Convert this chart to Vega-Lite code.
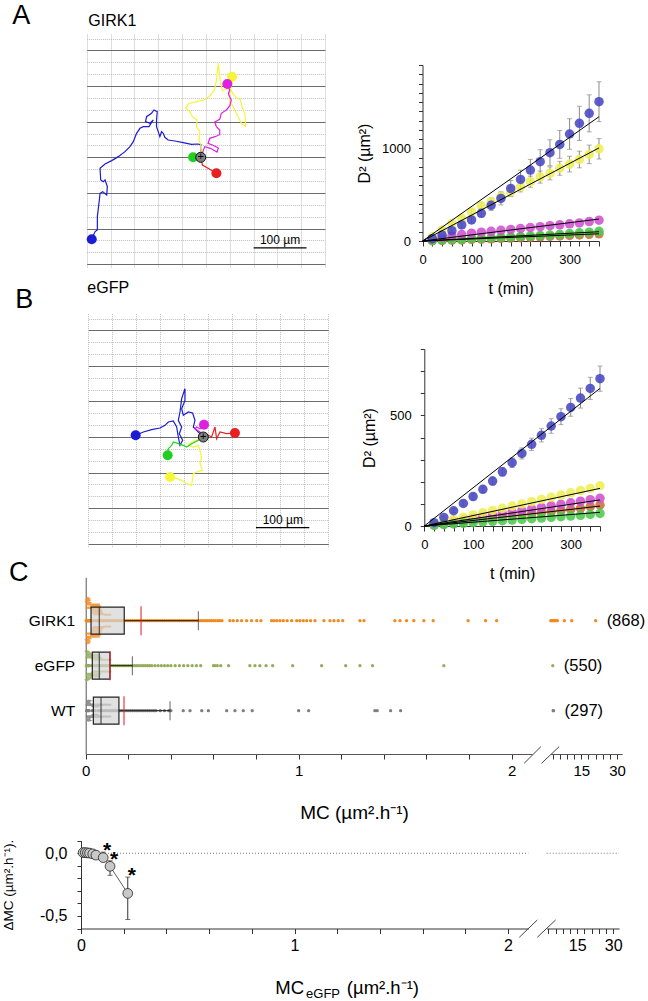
{
"$schema":"https://vega.github.io/schema/vega-lite/v6.json",
"width":648,"height":1001,"autosize":{"type":"none"},"padding":0,"background":"white",
"config":{"view":{"stroke":null},"font":"Liberation Sans","legend":{"disable":true},
"axis":{"grid":false,"domainColor":"#333","tickColor":"#333","labelColor":"#000","titleColor":"#000","labelFont":"Liberation Sans","titleFont":"Liberation Sans","titleFontWeight":"normal","labelOverlap":false,"labelBound":false,"labelFlush":false}},
"datasets":{
"trajA":[
{"k":"blue","i":0,"x":0,"y":0},{"k":"blue","i":1,"x":1.3,"y":23.4},{"k":"blue","i":2,"x":-5.1,"y":25.3},{"k":"blue","i":3,"x":-17.7,"y":24.7},{"k":"blue","i":4,"x":-33.5,"y":27.9},{"k":"blue","i":5,"x":-49.4,"y":31},{"k":"blue","i":6,"x":-62,"y":32.9},{"k":"blue","i":7,"x":-68.4,"y":38},{"k":"blue","i":8,"x":-71.5,"y":45.6},{"k":"blue","i":9,"x":-74.7,"y":48.7},{"k":"blue","i":10,"x":-77.9,"y":39.2},{"k":"blue","i":11,"x":-81,"y":48.7},{"k":"blue","i":12,"x":-84.2,"y":58.2},{"k":"blue","i":13,"x":-84.2,"y":70.9},{"k":"blue","i":14,"x":-82.9,"y":86.7},{"k":"blue","i":15,"x":-89.3,"y":89.9},{"k":"blue","i":16,"x":-93.7,"y":83.6},{"k":"blue","i":17,"x":-103.2,"y":77.2},{"k":"blue","i":18,"x":-105.1,"y":67.7},{"k":"blue","i":19,"x":-96.9,"y":64.6},{"k":"blue","i":20,"x":-90.5,"y":70.9},{"k":"blue","i":21,"x":-98.7,"y":58.2},{"k":"blue","i":22,"x":-109.5,"y":58.2},{"k":"blue","i":23,"x":-115.8,"y":55.1},{"k":"blue","i":24,"x":-122.2,"y":45.6},{"k":"blue","i":25,"x":-128.5,"y":29.8},{"k":"blue","i":26,"x":-134.8,"y":20.3},{"k":"blue","i":27,"x":-144.3,"y":10.8},{"k":"blue","i":28,"x":-157,"y":1.3},{"k":"blue","i":29,"x":-169.6,"y":-6.3},{"k":"blue","i":30,"x":-182.3,"y":-12.7},{"k":"blue","i":31,"x":-191.8,"y":-20.9},{"k":"blue","i":32,"x":-190.5,"y":-43},{"k":"blue","i":33,"x":-185.5,"y":-46.2},{"k":"blue","i":34,"x":-182.3,"y":-43},{"k":"blue","i":35,"x":-177.9,"y":-55.7},{"k":"blue","i":36,"x":-179.1,"y":-71.5},{"k":"blue","i":37,"x":-186.7,"y":-65.2},{"k":"blue","i":38,"x":-191.8,"y":-68.4},{"k":"blue","i":39,"x":-193.1,"y":-81},{"k":"blue","i":40,"x":-195,"y":-96.8},{"k":"blue","i":41,"x":-196.9,"y":-112.7},{"k":"blue","i":42,"x":-196.9,"y":-138},{"k":"blue","i":43,"x":-201.3,"y":-141.2},{"k":"blue","i":44,"x":-207.6,"y":-155.7},
{"k":"yellow","i":0,"x":0,"y":0},{"k":"yellow","i":1,"x":1.3,"y":20.3},{"k":"yellow","i":2,"x":-3.2,"y":32.9},{"k":"yellow","i":3,"x":-1.9,"y":48.7},{"k":"yellow","i":4,"x":-8.2,"y":58.2},{"k":"yellow","i":5,"x":-7,"y":70.9},{"k":"yellow","i":6,"x":-15.8,"y":77.2},{"k":"yellow","i":7,"x":-20.9,"y":86.7},{"k":"yellow","i":8,"x":-28.5,"y":93.1},{"k":"yellow","i":9,"x":-24.1,"y":101.3},{"k":"yellow","i":10,"x":-8.2,"y":105.7},{"k":"yellow","i":11,"x":5.7,"y":108.9},{"k":"yellow","i":12,"x":17.1,"y":116.5},{"k":"yellow","i":13,"x":26.6,"y":129.1},{"k":"yellow","i":14,"x":29.8,"y":146.9},{"k":"yellow","i":15,"x":33.5,"y":178.5},{"k":"yellow","i":16,"x":37.3,"y":143.7},{"k":"yellow","i":17,"x":41.1,"y":126.6},{"k":"yellow","i":18,"x":55.1,"y":132.9},{"k":"yellow","i":19,"x":61.4,"y":120.3},{"k":"yellow","i":20,"x":69,"y":112},{"k":"yellow","i":21,"x":75.3,"y":110.1},{"k":"yellow","i":22,"x":79.1,"y":95},{"k":"yellow","i":23,"x":84.2,"y":80.4},{"k":"yellow","i":24,"x":85.5,"y":59.5},{"k":"yellow","i":25,"x":77.9,"y":63.3},{"k":"yellow","i":26,"x":71.5,"y":77.2},{"k":"yellow","i":27,"x":65.2,"y":88.6},{"k":"yellow","i":28,"x":60.1,"y":99.4},{"k":"yellow","i":29,"x":55.1,"y":105.1},{"k":"yellow","i":30,"x":55.1,"y":121.5},{"k":"yellow","i":31,"x":59.5,"y":140.5},{"k":"yellow","i":32,"x":59.5,"y":153.2},
{"k":"magenta","i":0,"x":0,"y":0},{"k":"magenta","i":1,"x":7.6,"y":20.3},{"k":"magenta","i":2,"x":18.4,"y":17.1},{"k":"magenta","i":3,"x":31,"y":10.1},{"k":"magenta","i":4,"x":33.5,"y":17.7},{"k":"magenta","i":5,"x":23.4,"y":22.8},{"k":"magenta","i":6,"x":13.9,"y":26.6},{"k":"magenta","i":7,"x":17.1,"y":36.1},{"k":"magenta","i":8,"x":27.2,"y":39.2},{"k":"magenta","i":9,"x":36.1,"y":43},{"k":"magenta","i":10,"x":36.1,"y":51.9},{"k":"magenta","i":11,"x":29.8,"y":58.2},{"k":"magenta","i":12,"x":26.6,"y":67.1},{"k":"magenta","i":13,"x":36.1,"y":72.2},{"k":"magenta","i":14,"x":39.2,"y":83.6},{"k":"magenta","i":15,"x":48.7,"y":89.9},{"k":"magenta","i":16,"x":55.1,"y":97.5},{"k":"magenta","i":17,"x":58.2,"y":108.9},{"k":"magenta","i":18,"x":52.5,"y":120.3},{"k":"magenta","i":19,"x":55.1,"y":127.9},{"k":"magenta","i":20,"x":50.6,"y":139.3},
{"k":"green","i":0,"x":0,"y":0},{"k":"green","i":1,"x":-8.2,"y":4.4},{"k":"green","i":2,"x":-14.6,"y":0},
{"k":"red","i":0,"x":0,"y":0},{"k":"red","i":1,"x":3.2,"y":-14.6},{"k":"red","i":2,"x":13.9,"y":-20.9},{"k":"red","i":3,"x":29.8,"y":-30.4}
],
"trajB":[
{"k":"blue","i":0,"x":0,"y":0},{"k":"blue","i":1,"x":-9.5,"y":9.5},{"k":"blue","i":2,"x":-19,"y":19},{"k":"blue","i":3,"x":-15.8,"y":31.7},{"k":"blue","i":4,"x":-20.3,"y":45.6},{"k":"blue","i":5,"x":-28.5,"y":47.5},{"k":"blue","i":6,"x":-38,"y":41.1},{"k":"blue","i":7,"x":-41.1,"y":53.8},{"k":"blue","i":8,"x":-34.8,"y":69.6},{"k":"blue","i":9,"x":-34.8,"y":91.8},{"k":"blue","i":10,"x":-41.1,"y":72.8},{"k":"blue","i":11,"x":-44.3,"y":47.5},{"k":"blue","i":12,"x":-47.5,"y":31.7},{"k":"blue","i":13,"x":-41.1,"y":19},{"k":"blue","i":14,"x":-45.6,"y":6.3},{"k":"blue","i":15,"x":-39.2,"y":-6.3},{"k":"blue","i":16,"x":-44.3,"y":-15.8},{"k":"blue","i":17,"x":-47.5,"y":0},{"k":"blue","i":18,"x":-50.6,"y":19},{"k":"blue","i":19,"x":-57,"y":30.4},{"k":"blue","i":20,"x":-66.5,"y":28.5},{"k":"blue","i":21,"x":-72.8,"y":22.2},{"k":"blue","i":22,"x":-82.3,"y":17.1},{"k":"blue","i":23,"x":-98.1,"y":13.9},{"k":"blue","i":24,"x":-113.9,"y":9.5},{"k":"blue","i":25,"x":-128.5,"y":3.2},
{"k":"yellow","i":0,"x":0,"y":0},{"k":"yellow","i":1,"x":-12.7,"y":-6.3},{"k":"yellow","i":2,"x":-22.2,"y":-9.5},{"k":"yellow","i":3,"x":-28.5,"y":-15.8},{"k":"yellow","i":4,"x":-19,"y":-19},{"k":"yellow","i":5,"x":-9.5,"y":-15.8},{"k":"yellow","i":6,"x":-6.3,"y":-25.3},{"k":"yellow","i":7,"x":-3.2,"y":-38},{"k":"yellow","i":8,"x":-6.3,"y":-50.6},{"k":"yellow","i":9,"x":-1.9,"y":-63.3},{"k":"yellow","i":10,"x":-12.7,"y":-66.5},{"k":"yellow","i":11,"x":-19,"y":-69.6},{"k":"yellow","i":12,"x":-22.2,"y":-91.8},{"k":"yellow","i":13,"x":-31.7,"y":-88.6},{"k":"yellow","i":14,"x":-41.1,"y":-82.3},{"k":"yellow","i":15,"x":-50.6,"y":-79.1},{"k":"yellow","i":16,"x":-63.3,"y":-76},
{"k":"green","i":0,"x":0,"y":0},{"k":"green","i":1,"x":-9.5,"y":-6.3},{"k":"green","i":2,"x":-22.2,"y":-12.7},{"k":"green","i":3,"x":-31.7,"y":-19},{"k":"green","i":4,"x":-38,"y":-15.8},{"k":"green","i":5,"x":-47.5,"y":-12.7},{"k":"green","i":6,"x":-57,"y":-9.5},{"k":"green","i":7,"x":-60.1,"y":-15.8},{"k":"green","i":8,"x":-66.5,"y":-22.2},{"k":"green","i":9,"x":-67.7,"y":-34.8},
{"k":"magenta","i":0,"x":0,"y":0},{"k":"magenta","i":1,"x":-6.3,"y":9.5},{"k":"magenta","i":2,"x":-15.8,"y":15.8},{"k":"magenta","i":3,"x":-12.7,"y":19},{"k":"magenta","i":4,"x":-6.3,"y":15.8},{"k":"magenta","i":5,"x":1.3,"y":23.4},
{"k":"red","i":0,"x":0,"y":0},{"k":"red","i":1,"x":9.5,"y":3.2},{"k":"red","i":2,"x":15.8,"y":0},{"k":"red","i":3,"x":22.2,"y":19},{"k":"red","i":4,"x":25.3,"y":-3.2},{"k":"red","i":5,"x":31.7,"y":9.5},{"k":"red","i":6,"x":44.3,"y":6.3},{"k":"red","i":7,"x":60.1,"y":7.6}
],
"d2A":[
{"s":"red","t":20,"d2":3},{"s":"red","t":40,"d2":6},{"s":"red","t":60,"d2":9},{"s":"red","t":80,"d2":12},{"s":"red","t":100,"d2":16},{"s":"red","t":120,"d2":20},{"s":"red","t":140,"d2":24},{"s":"red","t":160,"d2":28},{"s":"red","t":180,"d2":32},{"s":"red","t":200,"d2":36},{"s":"red","t":220,"d2":40},{"s":"red","t":240,"d2":45},{"s":"red","t":260,"d2":50},{"s":"red","t":280,"d2":55},{"s":"red","t":300,"d2":60},{"s":"red","t":320,"d2":66},{"s":"red","t":340,"d2":72},{"s":"red","t":360,"d2":78},
{"s":"green","t":20,"d2":5},{"s":"green","t":40,"d2":10},{"s":"green","t":60,"d2":15},{"s":"green","t":80,"d2":20},{"s":"green","t":100,"d2":25},{"s":"green","t":120,"d2":30},{"s":"green","t":140,"d2":35},{"s":"green","t":160,"d2":40},{"s":"green","t":180,"d2":45},{"s":"green","t":200,"d2":50},{"s":"green","t":220,"d2":55},{"s":"green","t":240,"d2":60},{"s":"green","t":260,"d2":65},{"s":"green","t":280,"d2":72},{"s":"green","t":300,"d2":80},{"s":"green","t":320,"d2":88},{"s":"green","t":340,"d2":95},{"s":"green","t":360,"d2":105},
{"s":"magenta","t":20,"d2":25},{"s":"magenta","t":40,"d2":40},{"s":"magenta","t":60,"d2":55},{"s":"magenta","t":80,"d2":70},{"s":"magenta","t":100,"d2":85},{"s":"magenta","t":120,"d2":95},{"s":"magenta","t":140,"d2":105},{"s":"magenta","t":160,"d2":115},{"s":"magenta","t":180,"d2":125},{"s":"magenta","t":200,"d2":135},{"s":"magenta","t":220,"d2":145},{"s":"magenta","t":240,"d2":155},{"s":"magenta","t":260,"d2":165},{"s":"magenta","t":280,"d2":175},{"s":"magenta","t":300,"d2":185},{"s":"magenta","t":320,"d2":195},{"s":"magenta","t":340,"d2":210},{"s":"magenta","t":360,"d2":225},
{"s":"yellow","t":20,"d2":45,"se":8},{"s":"yellow","t":40,"d2":120,"se":15},{"s":"yellow","t":60,"d2":190,"se":20},{"s":"yellow","t":80,"d2":245,"se":25},{"s":"yellow","t":100,"d2":315,"se":30},{"s":"yellow","t":120,"d2":380,"se":35},{"s":"yellow","t":140,"d2":425,"se":40},{"s":"yellow","t":160,"d2":480,"se":45},{"s":"yellow","t":180,"d2":530,"se":50},{"s":"yellow","t":200,"d2":585,"se":55},{"s":"yellow","t":220,"d2":640,"se":60},{"s":"yellow","t":240,"d2":690,"se":65},{"s":"yellow","t":260,"d2":730,"se":70},{"s":"yellow","t":280,"d2":785,"se":75},{"s":"yellow","t":300,"d2":830,"se":85},{"s":"yellow","t":320,"d2":880,"se":90},{"s":"yellow","t":340,"d2":935,"se":100},{"s":"yellow","t":360,"d2":995,"se":110},
{"s":"blue","t":20,"d2":25,"se":5},{"s":"blue","t":40,"d2":65,"se":10},{"s":"blue","t":60,"d2":112,"se":18},{"s":"blue","t":80,"d2":173,"se":25},{"s":"blue","t":100,"d2":227,"se":32},{"s":"blue","t":120,"d2":299,"se":40},{"s":"blue","t":140,"d2":385,"se":55},{"s":"blue","t":160,"d2":460,"se":70},{"s":"blue","t":180,"d2":568,"se":85},{"s":"blue","t":200,"d2":665,"se":100},{"s":"blue","t":220,"d2":766,"se":115},{"s":"blue","t":240,"d2":856,"se":130},{"s":"blue","t":260,"d2":953,"se":140},{"s":"blue","t":280,"d2":1043,"se":150},{"s":"blue","t":300,"d2":1155,"se":165},{"s":"blue","t":320,"d2":1270,"se":185},{"s":"blue","t":340,"d2":1378,"se":200},{"s":"blue","t":360,"d2":1504,"se":215}
],
"fitA":[
{"s":"blue","t":0,"d2":0},{"s":"blue","t":360,"d2":1342},{"s":"yellow","t":0,"d2":0},{"s":"yellow","t":360,"d2":1005},{"s":"magenta","t":0,"d2":0},{"s":"magenta","t":360,"d2":237},{"s":"green","t":0,"d2":0},{"s":"green","t":360,"d2":100},{"s":"red","t":0,"d2":0},{"s":"red","t":360,"d2":78}
],
"d2B":[
{"s":"red","t":20,"d2":5},{"s":"red","t":40,"d2":10},{"s":"red","t":60,"d2":15},{"s":"red","t":80,"d2":20},{"s":"red","t":100,"d2":25},{"s":"red","t":120,"d2":30},{"s":"red","t":140,"d2":35},{"s":"red","t":160,"d2":40},{"s":"red","t":180,"d2":45},{"s":"red","t":200,"d2":50},{"s":"red","t":220,"d2":55},{"s":"red","t":240,"d2":60},{"s":"red","t":260,"d2":65},{"s":"red","t":280,"d2":70},{"s":"red","t":300,"d2":75},{"s":"red","t":320,"d2":80},{"s":"red","t":340,"d2":88},{"s":"red","t":360,"d2":95},
{"s":"magenta","t":20,"d2":7},{"s":"magenta","t":40,"d2":14},{"s":"magenta","t":60,"d2":21},{"s":"magenta","t":80,"d2":28},{"s":"magenta","t":100,"d2":35},{"s":"magenta","t":120,"d2":42},{"s":"magenta","t":140,"d2":49},{"s":"magenta","t":160,"d2":56},{"s":"magenta","t":180,"d2":63},{"s":"magenta","t":200,"d2":70},{"s":"magenta","t":220,"d2":77},{"s":"magenta","t":240,"d2":84},{"s":"magenta","t":260,"d2":91},{"s":"magenta","t":280,"d2":98},{"s":"magenta","t":300,"d2":105},{"s":"magenta","t":320,"d2":112},{"s":"magenta","t":340,"d2":119},{"s":"magenta","t":360,"d2":125},
{"s":"yellow","t":20,"d2":10},{"s":"yellow","t":40,"d2":20},{"s":"yellow","t":60,"d2":30},{"s":"yellow","t":80,"d2":40},{"s":"yellow","t":100,"d2":50},{"s":"yellow","t":120,"d2":60},{"s":"yellow","t":140,"d2":70},{"s":"yellow","t":160,"d2":80},{"s":"yellow","t":180,"d2":90},{"s":"yellow","t":200,"d2":100},{"s":"yellow","t":220,"d2":110},{"s":"yellow","t":240,"d2":120},{"s":"yellow","t":260,"d2":130},{"s":"yellow","t":280,"d2":140},{"s":"yellow","t":300,"d2":150},{"s":"yellow","t":320,"d2":160},{"s":"yellow","t":340,"d2":170},{"s":"yellow","t":360,"d2":182},
{"s":"green","t":20,"d2":3},{"s":"green","t":40,"d2":6},{"s":"green","t":60,"d2":9},{"s":"green","t":80,"d2":12},{"s":"green","t":100,"d2":15},{"s":"green","t":120,"d2":18},{"s":"green","t":140,"d2":21},{"s":"green","t":160,"d2":24},{"s":"green","t":180,"d2":27},{"s":"green","t":200,"d2":30},{"s":"green","t":220,"d2":33},{"s":"green","t":240,"d2":36},{"s":"green","t":260,"d2":39},{"s":"green","t":280,"d2":42},{"s":"green","t":300,"d2":45},{"s":"green","t":320,"d2":48},{"s":"green","t":340,"d2":52},{"s":"green","t":360,"d2":57},
{"s":"blue","t":20,"d2":15,"se":3},{"s":"blue","t":40,"d2":39,"se":5},{"s":"blue","t":60,"d2":69,"se":8},{"s":"blue","t":80,"d2":102,"se":10},{"s":"blue","t":100,"d2":133,"se":12},{"s":"blue","t":120,"d2":166,"se":15},{"s":"blue","t":140,"d2":203,"se":18},{"s":"blue","t":160,"d2":245,"se":20},{"s":"blue","t":180,"d2":286,"se":22},{"s":"blue","t":200,"d2":328,"se":25},{"s":"blue","t":220,"d2":369,"se":28},{"s":"blue","t":240,"d2":410,"se":30},{"s":"blue","t":260,"d2":452,"se":33},{"s":"blue","t":280,"d2":494,"se":36},{"s":"blue","t":300,"d2":536,"se":40},{"s":"blue","t":320,"d2":578,"se":45},{"s":"blue","t":340,"d2":622,"se":50},{"s":"blue","t":360,"d2":666,"se":57}
],
"fitB":[
{"s":"blue","t":0,"d2":0},{"s":"blue","t":360,"d2":622},{"s":"yellow","t":0,"d2":0},{"s":"yellow","t":360,"d2":170},{"s":"magenta","t":0,"d2":0},{"s":"magenta","t":360,"d2":118},{"s":"red","t":0,"d2":0},{"s":"red","t":360,"d2":90},{"s":"green","t":0,"d2":0},{"s":"green","t":360,"d2":62}
],
"strip":[
{"g":"GIRK1","mc":0.002},{"g":"GIRK1","mc":0.004},{"g":"GIRK1","mc":0.006},{"g":"GIRK1","mc":0.008},{"g":"GIRK1","mc":0.01},{"g":"GIRK1","mc":0.012},{"g":"GIRK1","mc":0.014},{"g":"GIRK1","mc":0.016},{"g":"GIRK1","mc":0.018},{"g":"GIRK1","mc":0.02},{"g":"GIRK1","mc":0.03},{"g":"GIRK1","mc":0.04},{"g":"GIRK1","mc":0.05},{"g":"GIRK1","mc":0.055},{"g":"GIRK1","mc":0.058},{"g":"GIRK1","mc":0.061},{"g":"GIRK1","mc":0.064},{"g":"GIRK1","mc":0.067},{"g":"GIRK1","mc":0.07},{"g":"GIRK1","mc":0.075},{"g":"GIRK1","mc":0.085},{"g":"GIRK1","mc":0.095},{"g":"GIRK1","mc":0.105},{"g":"GIRK1","mc":0.115},{"g":"GIRK1","mc":0.125},{"g":"GIRK1","mc":0.135},{"g":"GIRK1","mc":0.145},{"g":"GIRK1","mc":0.155},{"g":"GIRK1","mc":0.165},{"g":"GIRK1","mc":0.175},
{"g":"GIRK1","mc":0.19},{"g":"GIRK1","mc":0.2},{"g":"GIRK1","mc":0.21},{"g":"GIRK1","mc":0.22},{"g":"GIRK1","mc":0.23},{"g":"GIRK1","mc":0.24},{"g":"GIRK1","mc":0.25},{"g":"GIRK1","mc":0.26},{"g":"GIRK1","mc":0.27},{"g":"GIRK1","mc":0.28},{"g":"GIRK1","mc":0.29},{"g":"GIRK1","mc":0.3},{"g":"GIRK1","mc":0.31},{"g":"GIRK1","mc":0.32},{"g":"GIRK1","mc":0.33},{"g":"GIRK1","mc":0.34},{"g":"GIRK1","mc":0.35},{"g":"GIRK1","mc":0.36},{"g":"GIRK1","mc":0.37},{"g":"GIRK1","mc":0.38},{"g":"GIRK1","mc":0.39},{"g":"GIRK1","mc":0.4},{"g":"GIRK1","mc":0.41},{"g":"GIRK1","mc":0.42},{"g":"GIRK1","mc":0.43},{"g":"GIRK1","mc":0.44},{"g":"GIRK1","mc":0.45},{"g":"GIRK1","mc":0.46},{"g":"GIRK1","mc":0.47},{"g":"GIRK1","mc":0.48},{"g":"GIRK1","mc":0.49},{"g":"GIRK1","mc":0.5},{"g":"GIRK1","mc":0.51},{"g":"GIRK1","mc":0.52},{"g":"GIRK1","mc":0.53},{"g":"GIRK1","mc":0.54},{"g":"GIRK1","mc":0.55},{"g":"GIRK1","mc":0.56},{"g":"GIRK1","mc":0.57},{"g":"GIRK1","mc":0.58},{"g":"GIRK1","mc":0.59},{"g":"GIRK1","mc":0.6},{"g":"GIRK1","mc":0.61},{"g":"GIRK1","mc":0.62},{"g":"GIRK1","mc":0.63},{"g":"GIRK1","mc":0.64},
{"g":"GIRK1","mc":0.677},{"g":"GIRK1","mc":0.693},{"g":"GIRK1","mc":0.712},{"g":"GIRK1","mc":0.732},{"g":"GIRK1","mc":0.756},{"g":"GIRK1","mc":0.779},{"g":"GIRK1","mc":0.803},{"g":"GIRK1","mc":0.823},{"g":"GIRK1","mc":0.873},{"g":"GIRK1","mc":0.884},{"g":"GIRK1","mc":0.897},{"g":"GIRK1","mc":0.912},{"g":"GIRK1","mc":0.928},{"g":"GIRK1","mc":0.946},{"g":"GIRK1","mc":0.967},{"g":"GIRK1","mc":0.991},{"g":"GIRK1","mc":1.006},{"g":"GIRK1","mc":1.022},{"g":"GIRK1","mc":1.038},{"g":"GIRK1","mc":1.056},{"g":"GIRK1","mc":1.077},{"g":"GIRK1","mc":1.119},{"g":"GIRK1","mc":1.147},{"g":"GIRK1","mc":1.166},{"g":"GIRK1","mc":1.186},{"g":"GIRK1","mc":1.207},{"g":"GIRK1","mc":1.288},{"g":"GIRK1","mc":1.307},{"g":"GIRK1","mc":1.452},{"g":"GIRK1","mc":1.476},{"g":"GIRK1","mc":1.507},{"g":"GIRK1","mc":1.541},{"g":"GIRK1","mc":1.588},{"g":"GIRK1","mc":1.632},{"g":"GIRK1","mc":1.796},{"g":"GIRK1","mc":1.878},{"g":"GIRK1","mc":1.93},
{"g":"GIRK1","mc":2.2},{"g":"GIRK1","mc":2.5},{"g":"GIRK1","mc":2.87},{"g":"GIRK1","mc":3.2},{"g":"GIRK1","mc":3.58},{"g":"GIRK1","mc":4.0},{"g":"GIRK1","mc":4.29},{"g":"GIRK1","mc":4.96},{"g":"GIRK1","mc":7.88},{"g":"GIRK1","mc":10.98},{"g":"GIRK1","mc":21.0},
{"g":"eGFP","mc":0.003},{"g":"eGFP","mc":0.006},{"g":"eGFP","mc":0.009},{"g":"eGFP","mc":0.012},{"g":"eGFP","mc":0.015},{"g":"eGFP","mc":0.018},{"g":"eGFP","mc":0.03},{"g":"eGFP","mc":0.04},{"g":"eGFP","mc":0.05},{"g":"eGFP","mc":0.055},{"g":"eGFP","mc":0.06},{"g":"eGFP","mc":0.065},{"g":"eGFP","mc":0.07},{"g":"eGFP","mc":0.08},{"g":"eGFP","mc":0.09},{"g":"eGFP","mc":0.1},{"g":"eGFP","mc":0.11},{"g":"eGFP","mc":0.12},{"g":"eGFP","mc":0.13},{"g":"eGFP","mc":0.14},{"g":"eGFP","mc":0.15},{"g":"eGFP","mc":0.16},{"g":"eGFP","mc":0.17},{"g":"eGFP","mc":0.18},{"g":"eGFP","mc":0.19},{"g":"eGFP","mc":0.2},{"g":"eGFP","mc":0.21},{"g":"eGFP","mc":0.22},{"g":"eGFP","mc":0.23},{"g":"eGFP","mc":0.24},{"g":"eGFP","mc":0.25},{"g":"eGFP","mc":0.26},{"g":"eGFP","mc":0.27},{"g":"eGFP","mc":0.28},{"g":"eGFP","mc":0.29},{"g":"eGFP","mc":0.3},{"g":"eGFP","mc":0.31},{"g":"eGFP","mc":0.325},{"g":"eGFP","mc":0.34},{"g":"eGFP","mc":0.355},{"g":"eGFP","mc":0.37},{"g":"eGFP","mc":0.385},{"g":"eGFP","mc":0.4},{"g":"eGFP","mc":0.42},{"g":"eGFP","mc":0.44},{"g":"eGFP","mc":0.46},{"g":"eGFP","mc":0.48},{"g":"eGFP","mc":0.5},{"g":"eGFP","mc":0.52},{"g":"eGFP","mc":0.54},
{"g":"eGFP","mc":0.6},{"g":"eGFP","mc":0.607},{"g":"eGFP","mc":0.618},{"g":"eGFP","mc":0.634},{"g":"eGFP","mc":0.671},{"g":"eGFP","mc":0.771},{"g":"eGFP","mc":0.795},{"g":"eGFP","mc":0.818},{"g":"eGFP","mc":0.847},{"g":"eGFP","mc":0.878},{"g":"eGFP","mc":0.972},{"g":"eGFP","mc":1.108},{"g":"eGFP","mc":1.221},{"g":"eGFP","mc":1.288},{"g":"eGFP","mc":1.347},{"g":"eGFP","mc":1.682},{"g":"eGFP","mc":3.04},
{"g":"WT","mc":0.004},{"g":"WT","mc":0.008},{"g":"WT","mc":0.012},{"g":"WT","mc":0.016},{"g":"WT","mc":0.03},{"g":"WT","mc":0.045},{"g":"WT","mc":0.06},{"g":"WT","mc":0.07},{"g":"WT","mc":0.08},{"g":"WT","mc":0.09},{"g":"WT","mc":0.1},{"g":"WT","mc":0.11},{"g":"WT","mc":0.12},{"g":"WT","mc":0.13},{"g":"WT","mc":0.14},{"g":"WT","mc":0.15},{"g":"WT","mc":0.16},{"g":"WT","mc":0.17},{"g":"WT","mc":0.18},{"g":"WT","mc":0.19},{"g":"WT","mc":0.2},{"g":"WT","mc":0.21},{"g":"WT","mc":0.22},{"g":"WT","mc":0.23},{"g":"WT","mc":0.24},{"g":"WT","mc":0.25},{"g":"WT","mc":0.26},{"g":"WT","mc":0.27},{"g":"WT","mc":0.28},{"g":"WT","mc":0.29},{"g":"WT","mc":0.3},{"g":"WT","mc":0.31},{"g":"WT","mc":0.32},{"g":"WT","mc":0.33},{"g":"WT","mc":0.35},{"g":"WT","mc":0.37},{"g":"WT","mc":0.39},{"g":"WT","mc":0.4},
{"g":"WT","mc":0.458},{"g":"WT","mc":0.49},{"g":"WT","mc":0.545},{"g":"WT","mc":0.576},{"g":"WT","mc":0.662},{"g":"WT","mc":0.701},{"g":"WT","mc":0.74},{"g":"WT","mc":0.782},{"g":"WT","mc":1.0},{"g":"WT","mc":1.047},{"g":"WT","mc":1.358},{"g":"WT","mc":1.369},{"g":"WT","mc":1.432},{"g":"WT","mc":1.479},{"g":"WT","mc":3.2},{"g":"WT","mc":3.35}
],
"box":[
{"g":"GIRK1","q1":0.025,"med":0.064,"q3":0.181,"whi":0.529,"mean":0.26},
{"g":"eGFP","q1":0.031,"med":0.064,"q3":0.114,"whi":0.219,"mean":0.114},
{"g":"WT","q1":0.036,"med":0.072,"q3":0.156,"whi":0.396,"mean":0.18}
],
"nlab":[
{"g":"GIRK1","lab":"(868)","last":21.0},{"g":"eGFP","lab":"(550)","last":3.04},{"g":"WT","lab":"(297)","last":3.35}
],
"dmc":[
{"x":0.01,"y":0.005,"lo":0.005,"hi":0.005,"sig":0},{"x":0.02,"y":0.005,"lo":0.005,"hi":0.005,"sig":0},{"x":0.03,"y":0.003,"lo":0.003,"hi":0.003,"sig":0},{"x":0.04,"y":0.001,"lo":0.001,"hi":0.001,"sig":0},{"x":0.055,"y":-0.005,"lo":-0.005,"hi":-0.005,"sig":0},{"x":0.07,"y":-0.015,"lo":-0.015,"hi":-0.015,"sig":0},
{"x":0.104,"y":-0.035,"lo":-0.05,"hi":0.009,"sig":1},{"x":0.136,"y":-0.104,"lo":-0.176,"hi":-0.06,"sig":1},{"x":0.219,"y":-0.32,"lo":-0.528,"hi":-0.19,"sig":1}
]
},
"layer":[
{
"data":{"name":"trajA"},
"layer":[
{"mark":{"type":"line","strokeWidth":1.2},"encoding":{
"x":{"field":"x","type":"quantitative","scale":{"domain":[-217.2,236.6],"range":[86.7,325],"nice":false,"zero":false},"axis":{"orient":"top","grid":true,"values":[-217.2,-194.5,-171.8,-149.1,-126.4,-103.8,-81.1,-58.4,-35.7,-13,9.7,32.4,55.1,77.8,100.5,123.2,145.8,168.5,191.2,213.9,236.6],"labels":false,"ticks":false,"domain":false,"title":null,"gridColor":"#bdbdbd","gridDash":[1,1],"gridWidth":1}},
"y":{"field":"y","type":"quantitative","scale":{"domain":[-208.4,236.2],"range":[267,33],"nice":false,"zero":false},"axis":{"orient":"left","grid":true,"values":[-203.1,-180.6,-158,-135.4,-112.8,-90.3,-67.7,-45.1,-22.6,0,22.6,45.1,67.7,90.3,112.8,135.4,158,180.6,203.1,225.7],"labels":false,"ticks":false,"domain":false,"title":null,"gridColor":{"condition":{"test":"abs(round(datum.value/22.57))%3==0","value":"#6b6b6b"},"value":"#bdbdbd"},"gridDash":{"condition":{"test":"abs(round(datum.value/22.57))%3==0","value":[]},"value":[1,1]},"gridWidth":1}},
"color":{"field":"k","type":"nominal","scale":{"domain":["blue","yellow","magenta","green","red"],"range":["#1c1cd2","#f5f53a","#e020e0","#20d020","#e82020"]}},"order":{"field":"i","type":"quantitative"}}},
{"transform":[{"joinaggregate":[{"op":"max","field":"i","as":"m"}],"groupby":["k"]},{"filter":"datum.i==datum.m"}],"mark":{"type":"circle","size":100,"opacity":1},"encoding":{"x":{"field":"x","type":"quantitative"},"y":{"field":"y","type":"quantitative"},"color":{"field":"k","type":"nominal","scale":{"domain":["blue","yellow","magenta","green","red"],"range":["#1c1cd2","#f5f53a","#e020e0","#20d020","#e82020"]}}}},
{"transform":[{"filter":"datum.i==0 && datum.k=='blue'"}],"mark":{"type":"circle","size":100,"color":"#7f7f7f","opacity":1,"stroke":"#111","strokeWidth":1},"encoding":{"x":{"field":"x","type":"quantitative"},"y":{"field":"y","type":"quantitative"}}},
{"transform":[{"filter":"datum.i==0 && datum.k=='blue'"}],"mark":{"type":"text","text":"+","fontSize":11,"color":"#000","baseline":"middle","align":"center"},"encoding":{"x":{"field":"x","type":"quantitative"},"y":{"field":"y","type":"quantitative"}}},
{"data":{"values":[{}]},"mark":{"type":"rule","color":"#000","strokeWidth":1.2},"encoding":{"x":{"datum":100.7},"x2":{"datum":201.4},"y":{"datum":-172}}},
{"data":{"values":[{}]},"mark":{"type":"text","text":"100 µm","fontSize":12,"baseline":"middle","align":"center"},"encoding":{"x":{"datum":151},"y":{"datum":-157}}},
{"data":{"values":[{}]},"mark":{"type":"text","text":"GIRK1","fontSize":16,"baseline":"middle","align":"left"},"encoding":{"x":{"datum":-214.1},"y":{"datum":258.6}}},
{"data":{"values":[{}]},"mark":{"type":"text","text":"A","fontSize":27,"baseline":"middle","align":"center"},"encoding":{"x":{"datum":-342},"y":{"datum":268.9}}}
]
},
{
"data":{"name":"trajB"},
"layer":[
{"mark":{"type":"line","strokeWidth":1.2},"encoding":{
"x":{"field":"x","type":"quantitative","scale":{"domain":[-218.5,237.5],"range":[88.3,328.3],"nice":false,"zero":false},"axis":{"orient":"top","grid":true,"values":[-218.5,-195.7,-172.9,-150.1,-127.3,-104.5,-81.7,-58.9,-36.1,-13.3,9.5,32.3,55.1,77.9,100.7,123.5,146.3,169.1,191.9,214.7,237.5],"labels":false,"ticks":false,"domain":false,"title":null,"gridColor":"#bdbdbd","gridDash":[1,1],"gridWidth":1}},
"y":{"field":"y","type":"quantitative","scale":{"domain":[-208.4,235],"range":[546.7,313.3],"nice":false,"zero":false},"axis":{"orient":"left","grid":true,"values":[-202.5,-180,-157.5,-135,-112.5,-90,-67.5,-45,-22.5,0,22.5,45,67.5,90,112.5,135,157.5,180,202.5,225],"labels":false,"ticks":false,"domain":false,"title":null,"gridColor":{"condition":{"test":"abs(round(datum.value/22.5))%3==0","value":"#6b6b6b"},"value":"#bdbdbd"},"gridDash":{"condition":{"test":"abs(round(datum.value/22.5))%3==0","value":[]},"value":[1,1]},"gridWidth":1}},
"color":{"field":"k","type":"nominal","scale":{"domain":["blue","yellow","green","magenta","red"],"range":["#1c1cd2","#f5f53a","#20d020","#e020e0","#e82020"]}},"order":{"field":"i","type":"quantitative"}}},
{"transform":[{"joinaggregate":[{"op":"max","field":"i","as":"m"}],"groupby":["k"]},{"filter":"datum.i==datum.m"}],"mark":{"type":"circle","size":100,"opacity":1},"encoding":{"x":{"field":"x","type":"quantitative"},"y":{"field":"y","type":"quantitative"},"color":{"field":"k","type":"nominal","scale":{"domain":["blue","yellow","green","magenta","red"],"range":["#1c1cd2","#f5f53a","#20d020","#e020e0","#e82020"]}}}},
{"transform":[{"filter":"datum.i==0 && datum.k=='blue'"}],"mark":{"type":"circle","size":100,"color":"#7f7f7f","opacity":1,"stroke":"#111","strokeWidth":1},"encoding":{"x":{"field":"x","type":"quantitative"},"y":{"field":"y","type":"quantitative"}}},
{"transform":[{"filter":"datum.i==0 && datum.k=='blue'"}],"mark":{"type":"text","text":"+","fontSize":11,"color":"#000","baseline":"middle","align":"center"},"encoding":{"x":{"field":"x","type":"quantitative"},"y":{"field":"y","type":"quantitative"}}},
{"data":{"values":[{}]},"mark":{"type":"rule","color":"#000","strokeWidth":1.2},"encoding":{"x":{"datum":100.1},"x2":{"datum":201.4},"y":{"datum":-172.3}}},
{"data":{"values":[{}]},"mark":{"type":"text","text":"100 µm","fontSize":12,"baseline":"middle","align":"center"},"encoding":{"x":{"datum":151},"y":{"datum":-157.5}}},
{"data":{"values":[{}]},"mark":{"type":"text","text":"eGFP","fontSize":16,"baseline":"middle","align":"left"},"encoding":{"x":{"datum":-220.4},"y":{"datum":283.1}}},
{"data":{"values":[{}]},"mark":{"type":"text","text":"B","fontSize":27,"baseline":"middle","align":"center"},"encoding":{"x":{"datum":-340},"y":{"datum":260.3}}}
]
},
{
"data":{"name":"d2A"},
"encoding":{
"x":{"field":"t","type":"quantitative","scale":{"domain":[0,360],"range":[422.5,599],"nice":false,"zero":false},"axis":{"orient":"bottom","offset":-760,"values":[0,20,40,60,80,100,120,140,160,180,200,220,240,260,280,300,320,340,360],"labelExpr":"datum.value%100==0?datum.label:''","tickSize":5,"labelFontSize":13,"labelPadding":7,"title":"t (min)","titleFontSize":16,"titlePadding":14}},
"y":{"field":"d2","type":"quantitative","scale":{"domain":[0,1900],"range":[241,65],"nice":false,"zero":false},"axis":{"orient":"left","offset":-422.5,"values":[0,100,200,300,400,500,600,700,800,900,1000,1100,1200,1300,1400,1500,1600,1700,1800,1900],"format":"d","labelExpr":"datum.value%1000==0?datum.label:''","tickSize":4,"labelFontSize":13,"labelPadding":8,"title":"D² (µm²)","titleFontSize":16,"titlePadding":9}}
},
"layer":[
{"transform":[{"filter":"datum.se>0"}],"mark":{"type":"errorbar","ticks":true,"color":"#8a8a8a"},"encoding":{"yError":{"field":"se"}}},
{"mark":{"type":"circle","size":90,"opacity":0.88},"encoding":{"color":{"field":"s","type":"nominal","scale":{"domain":["red","green","magenta","yellow","blue"],"range":["#c8703f","#4cc84c","#d050d0","#eeee55","#4848c4"]}}}},
{"data":{"name":"fitA"},"mark":{"type":"line","color":"#000","strokeWidth":1},"encoding":{"detail":{"field":"s","type":"nominal"}}}
]
},
{
"data":{"name":"d2B"},
"encoding":{
"x":{"field":"t","type":"quantitative","scale":{"domain":[0,360],"range":[424.3,600],"nice":false,"zero":false},"axis":{"orient":"bottom","offset":-475,"values":[0,20,40,60,80,100,120,140,160,180,200,220,240,260,280,300,320,340,360],"labelExpr":"datum.value%100==0?datum.label:''","tickSize":5,"labelFontSize":13,"labelPadding":7,"title":"t (min)","titleFontSize":16,"titlePadding":14}},
"y":{"field":"d2","type":"quantitative","scale":{"domain":[0,800],"range":[526,349],"nice":false,"zero":false},"axis":{"orient":"left","offset":-424.3,"values":[0,100,200,300,400,500,600,700,800],"format":"d","labelExpr":"datum.value%500==0?datum.label:''","tickSize":4,"labelFontSize":13,"labelPadding":9,"title":"D² (µm²)","titleFontSize":16,"titlePadding":12}}
},
"layer":[
{"transform":[{"filter":"datum.se>0"}],"mark":{"type":"errorbar","ticks":true,"color":"#8a8a8a"},"encoding":{"yError":{"field":"se"}}},
{"mark":{"type":"circle","size":90,"opacity":0.88},"encoding":{"color":{"field":"s","type":"nominal","scale":{"domain":["red","magenta","yellow","green","blue"],"range":["#c8703f","#d050d0","#eeee55","#4cc84c","#4848c4"]}}}},
{"data":{"name":"fitB"},"mark":{"type":"line","color":"#000","strokeWidth":1},"encoding":{"detail":{"field":"s","type":"nominal"}}}
]
},
{
"encoding":{"y":{"field":"g","type":"nominal","scale":{"type":"point","domain":["GIRK1","eGFP","WT"],"range":[577.3,754],"padding":0.963},"axis":{"orient":"left","offset":-85.7,"ticks":false,"title":null,"labelFontSize":15.5,"labelPadding":11,"domainColor":"#555"}}},
"layer":[
{
"encoding":{"x":{"field":"mc","type":"quantitative","scale":{"domain":[0,2.096],"range":[85.7,532],"nice":false,"zero":false},"axis":{"orient":"bottom","offset":-247,"values":[0,0.2,0.4,0.6,0.8,1,1.2,1.4,1.6,1.8,2],"labelExpr":"datum.value==0?'0':(datum.value==1?'1':(datum.value==2?'2':''))","tickSize":5,"labelFontSize":15,"labelPadding":4,"domainColor":"#555","title":"MC (µm².h⁻¹)","titleFontSize":19,"titleX":354,"titleY":58,"titleAlign":"center","titleBaseline":"middle"}}},
"layer":[
{"data":{"name":"strip"},"transform":[{"filter":"datum.mc<2.1"}],"mark":{"type":"circle","size":11,"opacity":1},"encoding":{"color":{"field":"g","type":"nominal","scale":{"domain":["GIRK1","eGFP","WT"],"range":["#f28a1e","#93ad5a","#7f7f7f"]}}}},
{"data":{"name":"strip"},"transform":[{"filter":"datum.mc<0.2"},{"density":"mc","groupby":["g"],"extent":[0,0.12],"bandwidth":0.008,"counts":true,"steps":50,"as":["mcv","dens"]}],"mark":{"type":"line","strokeWidth":2,"opacity":0.85},"encoding":{"x":{"field":"mcv","type":"quantitative"},"yOffset":{"field":"dens","type":"quantitative","scale":{"zero":true,"range":[0,-23]}},"color":{"field":"g","type":"nominal","scale":{"domain":["GIRK1","eGFP","WT"],"range":["#f28a1e","#93ad5a","#7f7f7f"]}}}},
{"data":{"name":"strip"},"transform":[{"filter":"datum.mc<0.2"},{"density":"mc","groupby":["g"],"extent":[0,0.12],"bandwidth":0.008,"counts":true,"steps":50,"as":["mcv","dens"]}],"mark":{"type":"line","strokeWidth":2,"opacity":0.85},"encoding":{"x":{"field":"mcv","type":"quantitative"},"yOffset":{"field":"dens","type":"quantitative","scale":{"zero":true,"range":[0,23]}},"color":{"field":"g","type":"nominal","scale":{"domain":["GIRK1","eGFP","WT"],"range":["#f28a1e","#93ad5a","#7f7f7f"]}}}},
{"data":{"name":"box"},"mark":{"type":"bar","size":27,"fill":"#d4d4d4","fillOpacity":0.7,"stroke":"#222","strokeWidth":1.2},"encoding":{"x":{"field":"q1","type":"quantitative"},"x2":{"field":"q3"}}},
{"data":{"name":"box"},"mark":{"type":"tick","size":27,"thickness":1.3,"color":"#222"},"encoding":{"x":{"field":"med","type":"quantitative"}}},
{"data":{"name":"box"},"mark":{"type":"rule","color":"#222","strokeWidth":1},"encoding":{"x":{"field":"q3","type":"quantitative"},"x2":{"field":"whi"}}},
{"data":{"name":"box"},"mark":{"type":"tick","size":19,"thickness":1,"color":"#222"},"encoding":{"x":{"field":"whi","type":"quantitative"}}},
{"data":{"name":"box"},"mark":{"type":"tick","size":29,"thickness":1.5,"color":"#e8202a"},"encoding":{"x":{"field":"mean","type":"quantitative"}}}
],
"resolve":{"scale":{"yOffset":"independent"}}
},
{
"encoding":{"x":{"field":"mc","type":"quantitative","scale":{"domain":[2.16,32.1],"range":[550.7,622.1],"nice":false,"zero":false},"axis":{"orient":"bottom","offset":-247,"values":[3,6,9,12,15,18,21,24,27,30],"labelExpr":"datum.value==15||datum.value==30?datum.label:''","tickSize":5,"labelFontSize":15,"labelPadding":4,"domainColor":"#555","title":null}}},
"layer":[
{"data":{"name":"strip"},"transform":[{"filter":"datum.mc>2.1"}],"mark":{"type":"circle","size":11,"opacity":1},"encoding":{"color":{"field":"g","type":"nominal","scale":{"domain":["GIRK1","eGFP","WT"],"range":["#f28a1e","#93ad5a","#7f7f7f"]}}}},
{"data":{"name":"nlab"},"mark":{"type":"text","align":"left","baseline":"middle","dx":11,"fontSize":16.5},"encoding":{"x":{"field":"last","type":"quantitative"},"text":{"field":"lab"}}}
]
}
],
"resolve":{"scale":{"x":"independent"},"axis":{"x":"independent"}}
},
{
"data":{"values":[{}]},
"encoding":{"x":{"datum":2.0592,"type":"quantitative","scale":{"domain":[0,2.096],"range":[85.7,532],"nice":false,"zero":false},"axis":null},"y":{"datum":-1,"type":"quantitative","scale":{"domain":[-1,1],"range":[763.3,746.7],"nice":false,"zero":false},"axis":null}},
"layer":[
{"mark":{"type":"rule","color":"#444","strokeWidth":1},"encoding":{"x":{"datum":2.0592},"x2":{"datum":2.1376},"y":{"datum":-1},"y2":{"datum":1}}},
{"mark":{"type":"rule","color":"#444","strokeWidth":1},"encoding":{"x":{"datum":2.1408},"x2":{"datum":2.2235},"y":{"datum":-1},"y2":{"datum":1}}},
{"mark":{"type":"text","text":"C","fontSize":27,"align":"center","baseline":"middle"},"encoding":{"x":{"datum":-0.315},"y":{"datum":21.93}}}
]
},
{
"layer":[
{
"layer":[
{"data":{"values":[{}]},"mark":{"type":"rule","color":"#777","strokeDash":[1,2],"strokeWidth":1},"encoding":{"x":{"datum":0},"x2":{"datum":2.095},"y":{"datum":0}}},
{"data":{"values":[{}]},"mark":{"type":"rule","color":"#444","strokeWidth":1},"encoding":{"x":{"datum":2.053},"x2":{"datum":2.137},"y":{"datum":-0.67},"y2":{"datum":-0.532}}},
{"data":{"values":[{}]},"mark":{"type":"rule","color":"#444","strokeWidth":1},"encoding":{"x":{"datum":2.137},"x2":{"datum":2.223},"y":{"datum":-0.67},"y2":{"datum":-0.532}}},
{"data":{"name":"dmc"},"mark":{"type":"line","color":"#333","strokeWidth":0.8},"encoding":{
"x":{"field":"x","type":"quantitative","scale":{"domain":[0,2.095],"range":[81,528.3],"nice":false,"zero":false},"axis":{"orient":"bottom","offset":-72.5,"values":[0,0.2,0.4,0.6,0.8,1,1.2,1.4,1.6,1.8,2],"labelExpr":"datum.value==0?'0':(datum.value==1?'1':(datum.value==2?'2':''))","tickSize":5,"labelFontSize":16,"labelPadding":4,"domainColor":"#333","title":null}},
"y":{"field":"y","type":"quantitative","title":"ΔMC (µm².h⁻¹).","scale":{"domain":[-0.6,0.1],"range":[928.5,840.7],"nice":false,"zero":false},"axis":{"orient":"left","offset":-81,"values":[0.1,0,-0.1,-0.2,-0.3,-0.4,-0.5,-0.6],"labelExpr":"datum.value==0?'0,0':(datum.value==-0.5?'-0,5':'')","tickSize":4,"labelFontSize":16,"labelPadding":10,"domainColor":"#333","titleFontSize":13.5,"titlePadding":24}}}},
{"data":{"name":"dmc"},"transform":[{"filter":"datum.lo<datum.y"}],"mark":{"type":"errorbar","ticks":true,"color":"#333"},"encoding":{"x":{"field":"x","type":"quantitative"},"y":{"field":"lo","type":"quantitative","title":"ΔMC (µm².h⁻¹)."},"y2":{"field":"hi"}}},
{"data":{"name":"dmc"},"mark":{"type":"circle","size":95,"color":"#c8c8c8","opacity":1,"stroke":"#222","strokeWidth":0.8},"encoding":{"x":{"field":"x","type":"quantitative"},"y":{"field":"y","type":"quantitative","title":"ΔMC (µm².h⁻¹)."}}},
{"data":{"name":"dmc"},"transform":[{"filter":"datum.sig==1"}],"mark":{"type":"text","text":"*","fontSize":21,"fontWeight":"bold","dx":4,"dy":5,"baseline":"alphabetic","align":"center"},"encoding":{"x":{"field":"x","type":"quantitative"},"y":{"field":"hi","type":"quantitative","title":"ΔMC (µm².h⁻¹)."}}},
{"data":{"values":[{}]},"mark":{"type":"text","text":"MC","fontSize":18.5,"align":"right","baseline":"middle"},"encoding":{"x":{"datum":1.045},"y":{"datum":-1.074}}},
{"data":{"values":[{}]},"mark":{"type":"text","text":"eGFP","fontSize":13,"align":"left","baseline":"middle"},"encoding":{"x":{"datum":1.054},"y":{"datum":-1.122}}},
{"data":{"values":[{}]},"mark":{"type":"text","text":"(µm².h⁻¹)","fontSize":18.5,"align":"left","baseline":"middle"},"encoding":{"x":{"datum":1.245},"y":{"datum":-1.074}}}
]
},
{
"data":{"values":[{}]},
"mark":{"type":"rule","color":"#777","strokeDash":[1,2],"strokeWidth":1},
"encoding":{"x":{"datum":2.3,"type":"quantitative","scale":{"domain":[2.3,32.4],"range":[546.7,619],"nice":false,"zero":false},"axis":{"orient":"bottom","offset":-72.5,"values":[3,6,9,12,15,18,21,24,27,30],"labelExpr":"datum.value==15||datum.value==30?datum.label:''","tickSize":5,"labelFontSize":16,"labelPadding":4,"domainColor":"#333","title":null}},"x2":{"datum":32.4},"y":{"datum":0}}
}
],
"resolve":{"scale":{"x":"independent"},"axis":{"x":"independent"}}
}
],
"resolve":{"scale":{"x":"independent","y":"independent","color":"independent"},"axis":{"x":"independent","y":"independent"}}
}
